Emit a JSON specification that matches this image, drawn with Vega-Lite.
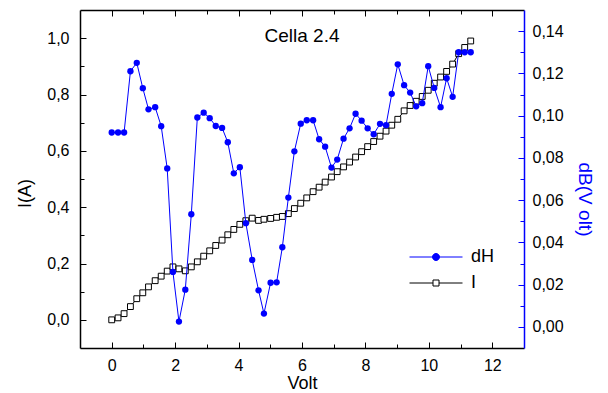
{
  "$schema": "https://vega.github.io/schema/vega-lite/v6.json",
  "width": 444,
  "height": 338,
  "autosize": {"type": "none"},
  "padding": {"left": 80, "top": 10, "right": 84, "bottom": 45},
  "background": "white",
  "title": {"text": "Cella 2.4", "fontSize": 19, "font": "Liberation Sans", "fontWeight": "normal", "color": "black", "anchor": "middle", "offset": -36, "baseline": "top"},
  "datasets": {
    "main": [
      {"v": 0.0, "I": 0.0, "dH": 0.092},
      {"v": 0.2, "I": 0.007, "dH": 0.092},
      {"v": 0.39, "I": 0.022, "dH": 0.092},
      {"v": 0.59, "I": 0.047, "dH": 0.121},
      {"v": 0.79, "I": 0.075, "dH": 0.125},
      {"v": 0.98, "I": 0.096, "dH": 0.113},
      {"v": 1.16, "I": 0.117, "dH": 0.103},
      {"v": 1.37, "I": 0.139, "dH": 0.104},
      {"v": 1.56, "I": 0.155, "dH": 0.095},
      {"v": 1.75, "I": 0.173, "dH": 0.075},
      {"v": 1.93, "I": 0.188, "dH": 0.026},
      {"v": 2.12, "I": 0.181, "dH": 0.0025},
      {"v": 2.32, "I": 0.174, "dH": 0.0176},
      {"v": 2.51, "I": 0.188, "dH": 0.0533},
      {"v": 2.7, "I": 0.206, "dH": 0.0991},
      {"v": 2.9, "I": 0.226, "dH": 0.1014},
      {"v": 3.09, "I": 0.245, "dH": 0.0988},
      {"v": 3.28, "I": 0.264, "dH": 0.0951},
      {"v": 3.48, "I": 0.283, "dH": 0.0942},
      {"v": 3.66, "I": 0.302, "dH": 0.0874},
      {"v": 3.85, "I": 0.321, "dH": 0.0727},
      {"v": 4.04, "I": 0.339, "dH": 0.0756},
      {"v": 4.23, "I": 0.352, "dH": 0.0491},
      {"v": 4.43, "I": 0.361, "dH": 0.0317},
      {"v": 4.63, "I": 0.353, "dH": 0.0173},
      {"v": 4.8, "I": 0.357, "dH": 0.0063},
      {"v": 5.01, "I": 0.36, "dH": 0.0209},
      {"v": 5.2, "I": 0.364, "dH": 0.0211},
      {"v": 5.38, "I": 0.367, "dH": 0.0377},
      {"v": 5.57, "I": 0.377, "dH": 0.0612},
      {"v": 5.76, "I": 0.395, "dH": 0.0831},
      {"v": 5.96, "I": 0.414, "dH": 0.0962},
      {"v": 6.15, "I": 0.433, "dH": 0.0978},
      {"v": 6.35, "I": 0.455, "dH": 0.0978},
      {"v": 6.54, "I": 0.471, "dH": 0.0888},
      {"v": 6.73, "I": 0.489, "dH": 0.0853},
      {"v": 6.93, "I": 0.507, "dH": 0.0754},
      {"v": 7.11, "I": 0.526, "dH": 0.0792},
      {"v": 7.31, "I": 0.543, "dH": 0.0891},
      {"v": 7.5, "I": 0.56, "dH": 0.094},
      {"v": 7.69, "I": 0.578, "dH": 0.1009},
      {"v": 7.88, "I": 0.597, "dH": 0.0976},
      {"v": 8.07, "I": 0.615, "dH": 0.094},
      {"v": 8.26, "I": 0.633, "dH": 0.0912},
      {"v": 8.46, "I": 0.652, "dH": 0.0961},
      {"v": 8.65, "I": 0.67, "dH": 0.0955},
      {"v": 8.83, "I": 0.691, "dH": 0.1103},
      {"v": 9.02, "I": 0.712, "dH": 0.1243},
      {"v": 9.22, "I": 0.742, "dH": 0.1144},
      {"v": 9.41, "I": 0.761, "dH": 0.1109},
      {"v": 9.6, "I": 0.776, "dH": 0.1044},
      {"v": 9.79, "I": 0.793, "dH": 0.1059},
      {"v": 9.98, "I": 0.815, "dH": 0.1234},
      {"v": 10.17, "I": 0.84, "dH": 0.1131},
      {"v": 10.37, "I": 0.862, "dH": 0.104},
      {"v": 10.56, "I": 0.882, "dH": 0.1177},
      {"v": 10.75, "I": 0.908, "dH": 0.1089},
      {"v": 10.94, "I": 0.945, "dH": 0.13},
      {"v": 11.13, "I": 0.967, "dH": 0.13},
      {"v": 11.32, "I": 0.99, "dH": 0.13}
    ]
  },
  "data": {"name": "main"},
  "layer": [
    {
      "mark": {"type": "line", "color": "black", "strokeWidth": 1},
      "encoding": {
        "x": {"field": "v", "type": "quantitative", "scale": {"domain": [-1, 13], "nice": false, "zero": false},
              "axis": {"orient": "bottom", "values": [0, 2, 4, 6, 8, 10, 12], "format": "d", "tickSize": -6, "labelPadding": 15, "title": "Volt", "titlePadding": 1, "domainColor": "black", "domainWidth": 1.5}},
        "y": {"field": "I", "type": "quantitative", "scale": {"domain": [-0.1, 1.1], "nice": false, "zero": false},
              "axis": {"orient": "left", "values": [0, 0.2, 0.4, 0.6, 0.8, 1.0], "labelExpr": "replace(format(datum.value, '.1f'), '.', ',')", "tickSize": -6, "labelPadding": 17, "title": "I(A)", "titlePadding": 12, "titleY": 183, "domainColor": "black", "domainWidth": 1.5}}
      }
    },
    {
      "mark": {"type": "point", "shape": "square", "size": 34, "filled": true, "fill": "white", "stroke": "black", "strokeWidth": 1, "opacity": 1},
      "encoding": {
        "x": {"field": "v", "type": "quantitative", "scale": {"domain": [-1, 13], "nice": false, "zero": false},
              "axis": {"orient": "bottom", "values": [1, 3, 5, 7, 9, 11], "labels": false, "tickSize": -4, "domain": false, "title": null}},
        "y": {"field": "I", "type": "quantitative", "scale": {"domain": [-0.1, 1.1], "nice": false, "zero": false},
              "axis": {"orient": "left", "values": [0.1, 0.3, 0.5, 0.7, 0.9], "labels": false, "tickSize": -4, "domain": false, "title": null}}
      }
    },
    {
      "mark": {"type": "line", "color": "#0000ff", "strokeWidth": 1},
      "encoding": {
        "x": {"field": "v", "type": "quantitative", "scale": {"domain": [-1, 13], "nice": false, "zero": false},
              "axis": {"orient": "top", "values": [0, 2, 4, 6, 8, 10, 12], "labels": false, "tickSize": -6, "title": null, "domainColor": "black", "domainWidth": 1.5}},
        "y": {"field": "dH", "type": "quantitative", "scale": {"domain": [-0.01, 0.15], "nice": false, "zero": false},
              "axis": {"orient": "right", "values": [0, 0.02, 0.04, 0.06, 0.08, 0.1, 0.12, 0.14], "labelExpr": "replace(format(datum.value, '.2f'), '.', ',')", "tickSize": -6, "labelPadding": 14, "tickColor": "#0000ff", "domainColor": "#0000ff", "domainWidth": 1.5, "title": "dB(V olt)", "titleColor": "#0000ff", "titleFontSize": 19, "titlePadding": 11, "titleY": 189}}
      }
    },
    {
      "mark": {"type": "circle", "size": 40, "color": "#0000ff", "opacity": 1},
      "encoding": {
        "x": {"field": "v", "type": "quantitative", "scale": {"domain": [-1, 13], "nice": false, "zero": false},
              "axis": {"orient": "top", "values": [1, 3, 5, 7, 9, 11], "labels": false, "tickSize": -4, "domain": false, "title": null}},
        "y": {"field": "dH", "type": "quantitative", "scale": {"domain": [-0.01, 0.15], "nice": false, "zero": false},
              "axis": {"orient": "right", "values": [0.01, 0.03, 0.05, 0.07, 0.09, 0.11, 0.13], "labels": false, "tickSize": -4, "tickColor": "#0000ff", "domain": false, "title": null}}
      }
    },
    {
      "transform": [{"filter": "datum.v > 100"}],
      "mark": {"type": "point", "opacity": 1},
      "encoding": {
        "x": {"field": "v", "type": "quantitative", "scale": {"domain": [-1, 13], "nice": false, "zero": false}, "axis": null},
        "y": {"field": "dH", "type": "quantitative", "scale": {"domain": [-0.01, 0.15], "nice": false, "zero": false}, "axis": null},
        "shape": {"field": "series", "type": "nominal",
                  "scale": {"domain": ["dH", "I"], "range": ["M-5.3,0H-0.7M0.7,0H5.3M0.7,0A0.7,0.7,0,1,1,-0.7,0A0.7,0.7,0,1,1,0.7,0Z", "M-5.3,0H-0.6M0.6,0H5.3M-0.6,-0.6H0.6V0.6H-0.6Z"]},
                  "legend": {"orient": "none", "legendX": 347, "legendY": 238, "title": null, "labelFontSize": 18, "labelFont": "Liberation Sans", "labelColor": "black", "symbolSize": 100, "symbolStrokeWidth": 1, "labelOffset": 26, "rowPadding": 8, "padding": 0}},
        "stroke": {"field": "series", "type": "nominal",
                   "scale": {"domain": ["dH", "I"], "range": ["#0000ff", "#000000"]},
                   "legend": {"orient": "none", "legendX": 347, "legendY": 238, "title": null, "labelFontSize": 18, "labelFont": "Liberation Sans", "labelColor": "black", "symbolSize": 100, "symbolStrokeWidth": 1, "labelOffset": 26, "rowPadding": 8, "padding": 0}},
        "fill": {"field": "series", "type": "nominal",
                 "scale": {"domain": ["dH", "I"], "range": ["#0000ff", "#ffffff"]},
                 "legend": {"orient": "none", "legendX": 347, "legendY": 238, "title": null, "labelFontSize": 18, "labelFont": "Liberation Sans", "labelColor": "black", "symbolSize": 100, "symbolStrokeWidth": 1, "labelOffset": 26, "rowPadding": 8, "padding": 0}}
      }
    }
  ],
  "resolve": {"scale": {"y": "independent"}, "axis": {"x": "independent", "y": "independent"}},
  "config": {
    "font": "Liberation Sans",
    "view": {"stroke": null},
    "axis": {"grid": false, "labelFont": "Liberation Sans", "titleFont": "Liberation Sans", "titleFontWeight": "normal", "labelFontSize": 16, "titleFontSize": 18, "tickColor": "black", "labelColor": "black", "titleColor": "black", "tickWidth": 1, "labelOverlap": false, "labelFlush": false}
  }
}
